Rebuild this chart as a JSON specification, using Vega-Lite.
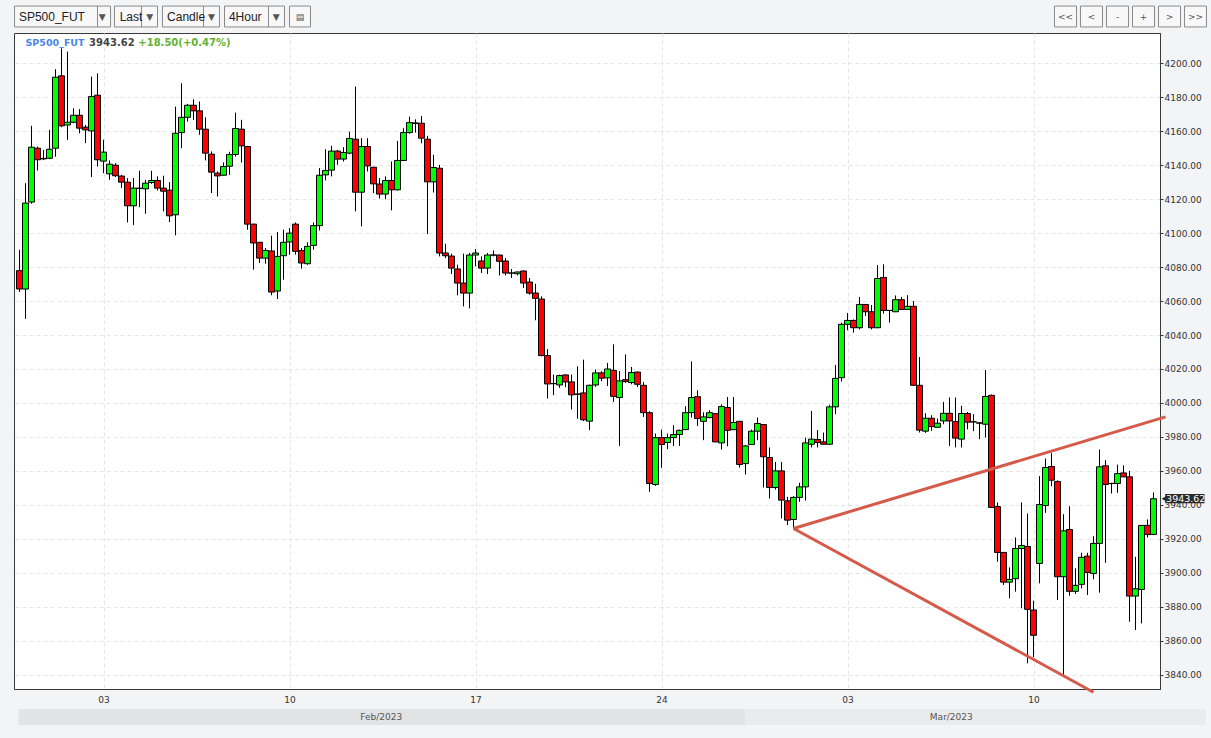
{
  "$schema": "https://vega.github.io/schema/vega-lite/v6.json",
  "width": 1146,
  "height": 656,
  "autosize": {"type": "none"},
  "padding": {"left": 14, "top": 33, "right": 51, "bottom": 49},
  "background": "#f3f4f6",
  "config": {
    "view": {"fill": "white", "stroke": "#3a3a3a", "strokeWidth": 1},
    "axis": {"labelFont": "DejaVu Sans", "labelFontSize": 9, "labelColor": "#333333", "gridColor": "#e6e6e6", "gridDash": [4, 3], "domainColor": "#3a3a3a", "tickColor": "#3a3a3a", "title": null, "labelOverlap": false}
  },
  "datasets": {
    "candles": [
      {"i":1,"o":4077.9,"h":4090.2,"l":4065.4,"c":4067.1},
      {"i":2,"o":4067.1,"h":4129.4,"l":4049.5,"c":4117.7},
      {"i":3,"o":4118.3,"h":4163.2,"l":4117.3,"c":4150.6},
      {"i":4,"o":4150.0,"h":4151.0,"l":4136.9,"c":4143.2},
      {"i":5,"o":4143.7,"h":4149.0,"l":4143.0,"c":4144.0},
      {"i":6,"o":4144.1,"h":4160.8,"l":4143.6,"c":4149.4},
      {"i":7,"o":4150.0,"h":4196.5,"l":4145.0,"c":4191.8},
      {"i":8,"o":4192.6,"h":4208.8,"l":4162.4,"c":4163.2},
      {"i":9,"o":4163.7,"h":4206.9,"l":4154.9,"c":4165.3},
      {"i":10,"o":4165.3,"h":4173.5,"l":4164.7,"c":4169.4},
      {"i":11,"o":4169.4,"h":4173.0,"l":4158.8,"c":4161.8},
      {"i":12,"o":4162.4,"h":4163.7,"l":4153.0,"c":4160.8},
      {"i":13,"o":4160.2,"h":4192.2,"l":4133.0,"c":4180.4},
      {"i":14,"o":4181.2,"h":4194.1,"l":4139.2,"c":4143.2},
      {"i":15,"o":4142.4,"h":4155.0,"l":4135.3,"c":4147.7},
      {"i":16,"o":4134.9,"h":4142.8,"l":4131.4,"c":4140.6},
      {"i":17,"o":4140.0,"h":4141.2,"l":4133.0,"c":4133.8},
      {"i":18,"o":4133.6,"h":4134.3,"l":4126.5,"c":4130.0},
      {"i":19,"o":4130.0,"h":4132.4,"l":4106.3,"c":4116.1},
      {"i":20,"o":4116.1,"h":4132.4,"l":4104.7,"c":4126.5},
      {"i":21,"o":4126.3,"h":4136.7,"l":4115.3,"c":4126.5},
      {"i":22,"o":4126.1,"h":4131.4,"l":4111.4,"c":4129.4},
      {"i":23,"o":4129.8,"h":4136.7,"l":4129.0,"c":4131.0},
      {"i":24,"o":4131.0,"h":4133.4,"l":4125.1,"c":4126.5},
      {"i":25,"o":4126.5,"h":4133.8,"l":4112.8,"c":4124.7},
      {"i":26,"o":4125.3,"h":4130.0,"l":4106.5,"c":4110.2},
      {"i":27,"o":4110.8,"h":4174.5,"l":4098.7,"c":4158.8},
      {"i":28,"o":4159.2,"h":4188.2,"l":4150.0,"c":4168.2},
      {"i":29,"o":4168.2,"h":4176.1,"l":4165.7,"c":4175.3},
      {"i":30,"o":4175.3,"h":4178.8,"l":4166.7,"c":4172.0},
      {"i":31,"o":4172.0,"h":4177.5,"l":4157.9,"c":4161.2},
      {"i":32,"o":4161.2,"h":4168.2,"l":4142.8,"c":4147.1},
      {"i":33,"o":4146.5,"h":4148.1,"l":4123.6,"c":4135.9},
      {"i":34,"o":4135.3,"h":4136.3,"l":4121.6,"c":4133.7},
      {"i":35,"o":4134.1,"h":4141.6,"l":4133.9,"c":4139.2},
      {"i":36,"o":4139.4,"h":4147.9,"l":4134.3,"c":4146.3},
      {"i":37,"o":4146.3,"h":4171.0,"l":4145.1,"c":4161.6},
      {"i":38,"o":4161.2,"h":4166.7,"l":4141.6,"c":4151.4},
      {"i":39,"o":4151.0,"h":4151.4,"l":4102.0,"c":4105.3},
      {"i":40,"o":4105.3,"h":4105.5,"l":4078.5,"c":4094.2},
      {"i":41,"o":4094.6,"h":4094.8,"l":4082.4,"c":4085.3},
      {"i":42,"o":4085.3,"h":4091.2,"l":4082.0,"c":4089.8},
      {"i":43,"o":4089.5,"h":4098.5,"l":4063.4,"c":4065.3},
      {"i":44,"o":4065.9,"h":4100.6,"l":4061.2,"c":4086.3},
      {"i":45,"o":4086.7,"h":4102.0,"l":4072.6,"c":4094.6},
      {"i":46,"o":4094.8,"h":4103.0,"l":4087.3,"c":4100.0},
      {"i":47,"o":4105.3,"h":4106.3,"l":4087.3,"c":4089.3},
      {"i":48,"o":4089.7,"h":4091.2,"l":4079.1,"c":4082.4},
      {"i":49,"o":4082.0,"h":4094.6,"l":4081.4,"c":4092.2},
      {"i":50,"o":4092.8,"h":4106.3,"l":4090.2,"c":4104.4},
      {"i":51,"o":4104.4,"h":4138.3,"l":4101.6,"c":4134.1},
      {"i":52,"o":4134.3,"h":4149.4,"l":4131.0,"c":4136.9},
      {"i":53,"o":4137.1,"h":4151.4,"l":4133.4,"c":4148.3},
      {"i":54,"o":4148.3,"h":4149.0,"l":4140.2,"c":4143.6},
      {"i":55,"o":4143.6,"h":4150.6,"l":4142.2,"c":4147.5},
      {"i":56,"o":4147.1,"h":4159.8,"l":4146.5,"c":4155.7},
      {"i":57,"o":4155.3,"h":4186.3,"l":4112.8,"c":4124.1},
      {"i":58,"o":4124.1,"h":4155.9,"l":4104.0,"c":4151.0},
      {"i":59,"o":4151.0,"h":4155.9,"l":4136.3,"c":4139.6},
      {"i":60,"o":4138.8,"h":4139.0,"l":4123.6,"c":4129.0},
      {"i":61,"o":4128.9,"h":4132.4,"l":4120.4,"c":4123.0},
      {"i":62,"o":4123.0,"h":4133.4,"l":4120.0,"c":4131.0},
      {"i":63,"o":4131.0,"h":4142.2,"l":4113.4,"c":4125.5},
      {"i":64,"o":4125.5,"h":4154.3,"l":4125.1,"c":4142.8},
      {"i":65,"o":4142.8,"h":4161.8,"l":4142.6,"c":4159.2},
      {"i":66,"o":4159.2,"h":4168.6,"l":4158.5,"c":4165.1},
      {"i":67,"o":4164.9,"h":4167.0,"l":4159.2,"c":4164.5},
      {"i":68,"o":4164.7,"h":4169.0,"l":4152.9,"c":4155.9},
      {"i":69,"o":4155.3,"h":4157.3,"l":4099.4,"c":4130.2},
      {"i":70,"o":4130.2,"h":4146.1,"l":4123.9,"c":4138.6},
      {"i":71,"o":4138.2,"h":4140.2,"l":4086.3,"c":4088.3},
      {"i":72,"o":4088.3,"h":4093.8,"l":4085.3,"c":4086.7},
      {"i":73,"o":4086.5,"h":4087.9,"l":4075.9,"c":4079.4},
      {"i":74,"o":4078.9,"h":4081.4,"l":4063.4,"c":4070.6},
      {"i":75,"o":4070.6,"h":4087.9,"l":4056.9,"c":4064.7},
      {"i":76,"o":4064.7,"h":4088.3,"l":4055.7,"c":4087.1},
      {"i":77,"o":4087.1,"h":4090.6,"l":4080.4,"c":4088.3},
      {"i":78,"o":4083.6,"h":4086.3,"l":4076.5,"c":4079.4},
      {"i":79,"o":4079.4,"h":4088.3,"l":4075.9,"c":4087.1},
      {"i":80,"o":4087.1,"h":4089.8,"l":4086.3,"c":4087.1},
      {"i":81,"o":4087.1,"h":4087.3,"l":4075.1,"c":4083.4},
      {"i":82,"o":4083.6,"h":4085.3,"l":4075.1,"c":4076.5},
      {"i":83,"o":4076.5,"h":4078.9,"l":4073.6,"c":4076.5},
      {"i":84,"o":4076.1,"h":4077.5,"l":4075.1,"c":4077.1},
      {"i":85,"o":4077.7,"h":4078.1,"l":4067.7,"c":4070.6},
      {"i":86,"o":4071.2,"h":4073.6,"l":4063.8,"c":4064.7},
      {"i":87,"o":4064.7,"h":4070.2,"l":4048.7,"c":4061.6},
      {"i":88,"o":4061.2,"h":4062.8,"l":4027.5,"c":4027.9},
      {"i":89,"o":4027.9,"h":4031.8,"l":4002.6,"c":4011.2},
      {"i":90,"o":4011.4,"h":4016.7,"l":4004.6,"c":4011.4},
      {"i":91,"o":4010.6,"h":4016.7,"l":4008.9,"c":4016.1},
      {"i":92,"o":4016.5,"h":4016.8,"l":4009.3,"c":4012.4},
      {"i":93,"o":4012.4,"h":4016.7,"l":3996.1,"c":4004.8},
      {"i":94,"o":4005.2,"h":4021.6,"l":3990.7,"c":4005.2},
      {"i":95,"o":4005.9,"h":4025.5,"l":3989.3,"c":3990.1},
      {"i":96,"o":3989.3,"h":4010.8,"l":3984.0,"c":4010.4},
      {"i":97,"o":4010.6,"h":4019.7,"l":4009.5,"c":4017.7},
      {"i":98,"o":4017.7,"h":4018.7,"l":4012.8,"c":4014.6},
      {"i":99,"o":4014.8,"h":4023.6,"l":4010.0,"c":4020.0},
      {"i":100,"o":4019.2,"h":4034.5,"l":4000.6,"c":4003.9},
      {"i":101,"o":4003.2,"h":4018.8,"l":3974.7,"c":4013.0},
      {"i":102,"o":4013.7,"h":4028.6,"l":4011.8,"c":4012.6},
      {"i":103,"o":4012.0,"h":4021.2,"l":4011.0,"c":4017.9},
      {"i":104,"o":4018.2,"h":4018.4,"l":4009.4,"c":4011.0},
      {"i":105,"o":4010.4,"h":4012.4,"l":3991.8,"c":3994.3},
      {"i":106,"o":3994.3,"h":3995.1,"l":3947.7,"c":3952.6},
      {"i":107,"o":3952.0,"h":3982.0,"l":3951.2,"c":3979.6},
      {"i":108,"o":3979.6,"h":3984.3,"l":3961.8,"c":3975.5},
      {"i":109,"o":3976.7,"h":3982.0,"l":3972.8,"c":3979.6},
      {"i":110,"o":3979.6,"h":3986.9,"l":3974.7,"c":3981.4},
      {"i":111,"o":3981.4,"h":3984.3,"l":3974.7,"c":3983.9},
      {"i":112,"o":3984.3,"h":3998.1,"l":3984.0,"c":3994.3},
      {"i":113,"o":3994.3,"h":4024.5,"l":3991.4,"c":4003.2},
      {"i":114,"o":4003.7,"h":4007.5,"l":3986.5,"c":3990.8},
      {"i":115,"o":3989.2,"h":3994.5,"l":3978.1,"c":3991.8},
      {"i":116,"o":3991.4,"h":3995.7,"l":3991.0,"c":3994.3},
      {"i":117,"o":3993.7,"h":3994.1,"l":3976.9,"c":3977.1},
      {"i":118,"o":3976.5,"h":3999.2,"l":3972.6,"c":3997.9},
      {"i":119,"o":3997.3,"h":4003.5,"l":3974.5,"c":3983.9},
      {"i":120,"o":3984.3,"h":4003.5,"l":3984.0,"c":3988.5},
      {"i":121,"o":3989.2,"h":3989.4,"l":3962.0,"c":3963.8},
      {"i":122,"o":3964.3,"h":3975.1,"l":3957.9,"c":3974.7},
      {"i":123,"o":3975.5,"h":3984.3,"l":3975.3,"c":3983.4},
      {"i":124,"o":3983.4,"h":3991.4,"l":3978.1,"c":3987.9},
      {"i":125,"o":3987.3,"h":3987.5,"l":3950.2,"c":3968.3},
      {"i":126,"o":3967.9,"h":3973.8,"l":3943.8,"c":3950.2},
      {"i":127,"o":3950.2,"h":3965.3,"l":3949.0,"c":3960.0},
      {"i":128,"o":3960.0,"h":3965.3,"l":3932.0,"c":3942.8},
      {"i":129,"o":3942.4,"h":3944.7,"l":3928.1,"c":3931.0},
      {"i":130,"o":3931.4,"h":3945.1,"l":3926.1,"c":3944.4},
      {"i":131,"o":3944.4,"h":3953.0,"l":3941.8,"c":3950.6},
      {"i":132,"o":3950.6,"h":3979.6,"l":3942.5,"c":3976.5},
      {"i":133,"o":3975.7,"h":3995.3,"l":3973.8,"c":3978.7},
      {"i":134,"o":3978.5,"h":3984.0,"l":3973.8,"c":3976.7},
      {"i":135,"o":3977.1,"h":3982.6,"l":3975.5,"c":3975.7},
      {"i":136,"o":3975.7,"h":3998.9,"l":3975.5,"c":3997.7},
      {"i":137,"o":3997.7,"h":4022.4,"l":3993.4,"c":4014.5},
      {"i":138,"o":4014.9,"h":4047.3,"l":4012.6,"c":4046.3},
      {"i":139,"o":4046.3,"h":4053.0,"l":4042.8,"c":4048.6},
      {"i":140,"o":4048.6,"h":4049.2,"l":4041.4,"c":4044.3},
      {"i":141,"o":4044.3,"h":4062.4,"l":4043.3,"c":4058.0},
      {"i":142,"o":4058.0,"h":4058.2,"l":4051.2,"c":4053.7},
      {"i":143,"o":4053.7,"h":4057.7,"l":4043.3,"c":4044.3},
      {"i":144,"o":4044.3,"h":4081.2,"l":4044.0,"c":4073.3},
      {"i":145,"o":4073.9,"h":4081.6,"l":4052.6,"c":4054.5},
      {"i":146,"o":4054.5,"h":4054.7,"l":4047.3,"c":4054.5},
      {"i":147,"o":4053.7,"h":4063.3,"l":4053.5,"c":4060.8},
      {"i":148,"o":4060.8,"h":4062.4,"l":4055.0,"c":4055.1},
      {"i":149,"o":4055.1,"h":4063.5,"l":4055.0,"c":4056.9},
      {"i":150,"o":4056.9,"h":4060.0,"l":4010.2,"c":4010.4},
      {"i":151,"o":4010.4,"h":4027.1,"l":3982.6,"c":3984.0},
      {"i":152,"o":3983.4,"h":3994.0,"l":3982.4,"c":3991.0},
      {"i":153,"o":3991.0,"h":3992.8,"l":3983.6,"c":3986.1},
      {"i":154,"o":3985.7,"h":3990.8,"l":3985.5,"c":3988.1},
      {"i":155,"o":3989.4,"h":4000.6,"l":3987.5,"c":3993.9},
      {"i":156,"o":3993.9,"h":4003.2,"l":3974.7,"c":3989.4},
      {"i":157,"o":3989.0,"h":4003.2,"l":3973.8,"c":3979.3},
      {"i":158,"o":3978.7,"h":3998.3,"l":3973.8,"c":3993.8},
      {"i":159,"o":3993.8,"h":3994.7,"l":3984.5,"c":3988.7},
      {"i":160,"o":3988.9,"h":3993.4,"l":3983.4,"c":3988.9},
      {"i":161,"o":3988.3,"h":3988.5,"l":3978.7,"c":3988.1},
      {"i":162,"o":3987.5,"h":4019.4,"l":3979.6,"c":4003.8},
      {"i":163,"o":4004.5,"h":4005.0,"l":3938.3,"c":3938.5},
      {"i":164,"o":3939.0,"h":3941.4,"l":3906.5,"c":3912.0},
      {"i":165,"o":3912.0,"h":3912.2,"l":3892.8,"c":3894.5},
      {"i":166,"o":3894.5,"h":3903.2,"l":3885.0,"c":3896.1},
      {"i":167,"o":3896.5,"h":3920.8,"l":3888.9,"c":3914.3},
      {"i":168,"o":3914.3,"h":3941.4,"l":3879.1,"c":3916.1},
      {"i":169,"o":3915.5,"h":3934.9,"l":3846.7,"c":3878.5},
      {"i":170,"o":3878.1,"h":3883.6,"l":3850.3,"c":3863.2},
      {"i":171,"o":3905.5,"h":3956.9,"l":3893.8,"c":3940.2},
      {"i":172,"o":3939.6,"h":3967.3,"l":3935.3,"c":3962.0},
      {"i":173,"o":3962.6,"h":3970.6,"l":3951.0,"c":3954.5},
      {"i":174,"o":3953.7,"h":3954.5,"l":3884.0,"c":3897.7},
      {"i":175,"o":3897.7,"h":3934.5,"l":3839.9,"c":3924.7},
      {"i":176,"o":3925.5,"h":3939.2,"l":3886.5,"c":3889.1},
      {"i":177,"o":3889.1,"h":3902.6,"l":3887.5,"c":3892.6},
      {"i":178,"o":3893.2,"h":3911.8,"l":3890.8,"c":3909.1},
      {"i":179,"o":3909.8,"h":3911.8,"l":3886.9,"c":3900.2},
      {"i":180,"o":3899.6,"h":3921.6,"l":3896.1,"c":3917.3},
      {"i":181,"o":3917.3,"h":3972.6,"l":3888.3,"c":3962.4},
      {"i":182,"o":3963.0,"h":3966.3,"l":3905.9,"c":3952.0},
      {"i":183,"o":3952.6,"h":3953.0,"l":3946.7,"c":3952.6},
      {"i":184,"o":3952.6,"h":3963.7,"l":3947.1,"c":3958.4},
      {"i":185,"o":3958.8,"h":3963.3,"l":3956.3,"c":3956.5},
      {"i":186,"o":3956.5,"h":3960.0,"l":3871.2,"c":3886.3},
      {"i":187,"o":3886.3,"h":3909.4,"l":3866.3,"c":3890.6},
      {"i":188,"o":3890.2,"h":3927.9,"l":3870.2,"c":3927.9},
      {"i":189,"o":3927.9,"h":3931.4,"l":3920.8,"c":3922.6},
      {"i":190,"o":3922.6,"h":3947.3,"l":3922.4,"c":3943.6}
    ],
    "trend": [
      {"seg": "upper", "i": 130, "p": 3926.1},
      {"seg": "upper", "i": 192, "p": 3991.8},
      {"seg": "lower", "i": 130, "p": 3926.1},
      {"seg": "lower", "i": 180, "p": 3829.7}
    ],
    "months": [
      {"month": "Feb/2023", "start": 0.83, "end": 122, "mid": 61.3},
      {"month": "Mar/2023", "start": 122, "end": 198.7, "mid": 156.3}
    ],
    "menus": [
      {"label": "SP500_FUT", "start": 0.17, "end": 16.17, "div": 14, "tx": 0.9, "ax": 14.8},
      {"label": "Last", "start": 16.83, "end": 24, "div": 21.33, "tx": 17.7, "ax": 22.7},
      {"label": "Candle", "start": 24.83, "end": 34.33, "div": 31.67, "tx": 25.6, "ax": 33},
      {"label": "4Hour", "start": 35.17, "end": 45.17, "div": 42.5, "tx": 35.9, "ax": 43.8}
    ],
    "buttons": [
      {"b": "▤", "start": 46, "end": 49.5, "mid": 47.75},
      {"b": "<<", "start": 173.5, "end": 177.17, "mid": 175.33},
      {"b": "<", "start": 177.83, "end": 181.5, "mid": 179.67},
      {"b": "-", "start": 182.17, "end": 185.83, "mid": 184},
      {"b": "+", "start": 186.5, "end": 190.17, "mid": 188.33},
      {"b": ">", "start": 190.83, "end": 194.5, "mid": 192.67},
      {"b": ">>", "start": 195.17, "end": 198.83, "mid": 197}
    ],
    "one": [{}]
  },
  "layer": [
    {
      "data": {"name": "candles"},
      "mark": {"type": "rule", "color": "#000000", "strokeWidth": 1},
      "encoding": {
        "x": {"field": "i", "type": "quantitative", "scale": {"domain": [0.0833, 191.0833], "nice": false, "zero": false, "padding": 0},
          "axis": {"orient": "bottom", "values": [15, 46, 77, 108, 139, 170], "labelExpr": "datum.value == 15 ? '03' : datum.value == 46 ? '10' : datum.value == 77 ? '17' : datum.value == 108 ? '24' : datum.value == 139 ? '03' : '10'", "grid": true, "ticks": false, "labelPadding": 6, "labelOverlap": false}},
        "y": {"field": "l", "type": "quantitative", "scale": {"domain": [3831.58, 4217.84], "nice": false, "zero": false, "padding": 0},
          "axis": {"orient": "right", "values": [3840, 3860, 3880, 3900, 3920, 3940, 3960, 3980, 4000, 4020, 4040, 4060, 4080, 4100, 4120, 4140, 4160, 4180, 4200], "format": ".2f", "grid": true, "tickSize": 3, "labelPadding": 1, "labelOverlap": false, "labelBound": false, "tickCount": 19}},
        "y2": {"field": "h"}
      }
    },
    {
      "data": {"name": "candles"},
      "mark": {"type": "bar", "size": 6, "stroke": "#000000", "strokeWidth": 1},
      "encoding": {
        "x": {"field": "i", "type": "quantitative"},
        "y": {"field": "o", "type": "quantitative"},
        "y2": {"field": "c"},
        "fill": {"condition": {"test": "datum.c > datum.o", "value": "#00ff00"}, "value": "#ff0000"}
      }
    },
    {
      "data": {"name": "trend"},
      "mark": {"type": "line", "color": "#d65a4a", "strokeWidth": 3},
      "encoding": {
        "x": {"field": "i", "type": "quantitative"},
        "y": {"field": "p", "type": "quantitative"},
        "detail": {"field": "seg"}
      }
    },
    {
      "data": {"name": "months"},
      "mark": {"type": "rect"},
      "encoding": {
        "x": {"field": "start", "type": "quantitative"},
        "x2": {"field": "end"},
        "y": {"datum": 3819.8},
        "y2": {"datum": 3810.4},
        "fill": {"field": "month", "type": "nominal", "scale": {"domain": ["Feb/2023", "Mar/2023"], "range": ["#e2e3e5", "#eaebed"]}, "legend": null}
      }
    },
    {
      "data": {"name": "months"},
      "mark": {"type": "text", "font": "DejaVu Sans", "fontSize": 9, "color": "#555555", "baseline": "middle"},
      "encoding": {
        "x": {"field": "mid", "type": "quantitative"},
        "y": {"datum": 3815.1},
        "text": {"field": "month"}
      }
    },
    {
      "data": {"name": "menus"},
      "mark": {"type": "rect", "fill": "#f8f8f9", "stroke": "#8a8a8a", "strokeWidth": 1},
      "encoding": {
        "x": {"field": "start", "type": "quantitative"},
        "x2": {"field": "end"},
        "y": {"datum": 4233.7},
        "y2": {"datum": 4221.4}
      }
    },
    {
      "data": {"name": "menus"},
      "mark": {"type": "rule", "color": "#8a8a8a", "strokeWidth": 1},
      "encoding": {
        "x": {"field": "div", "type": "quantitative"},
        "y": {"datum": 4233.7},
        "y2": {"datum": 4221.4}
      }
    },
    {
      "data": {"name": "menus"},
      "mark": {"type": "text", "font": "Liberation Sans", "fontSize": 12, "color": "#222222", "align": "left", "baseline": "middle"},
      "encoding": {
        "x": {"field": "tx", "type": "quantitative"},
        "y": {"datum": 4227.5},
        "text": {"field": "label"}
      }
    },
    {
      "data": {"name": "menus"},
      "mark": {"type": "text", "font": "DejaVu Sans", "fontSize": 9, "color": "#555555", "align": "center", "baseline": "middle"},
      "encoding": {
        "x": {"field": "ax", "type": "quantitative"},
        "y": {"datum": 4227.5},
        "text": {"value": "▼"}
      }
    },
    {
      "data": {"name": "buttons"},
      "mark": {"type": "rect", "fill": "#f8f8f9", "stroke": "#8a8a8a", "strokeWidth": 1},
      "encoding": {
        "x": {"field": "start", "type": "quantitative"},
        "x2": {"field": "end"},
        "y": {"datum": 4233.7},
        "y2": {"datum": 4221.4}
      }
    },
    {
      "data": {"name": "buttons"},
      "mark": {"type": "text", "font": "DejaVu Sans", "fontSize": 9, "color": "#555555", "align": "center", "baseline": "middle"},
      "encoding": {
        "x": {"field": "mid", "type": "quantitative"},
        "y": {"datum": 4227.5},
        "text": {"field": "b"}
      }
    },
    {
      "data": {"name": "one"},
      "mark": {"type": "text", "font": "DejaVu Sans", "fontSize": 9.5, "fontWeight": "bold", "color": "#4a86e8", "align": "left", "baseline": "middle"},
      "encoding": {"x": {"datum": 2.0}, "y": {"datum": 4211.9}, "text": {"value": "SP500_FUT"}}
    },
    {
      "data": {"name": "one"},
      "mark": {"type": "text", "font": "DejaVu Sans", "fontSize": 10, "fontWeight": "bold", "color": "#444444", "align": "left", "baseline": "middle"},
      "encoding": {"x": {"datum": 12.6}, "y": {"datum": 4211.9}, "text": {"value": "3943.62"}}
    },
    {
      "data": {"name": "one"},
      "mark": {"type": "text", "font": "DejaVu Sans", "fontSize": 10, "fontWeight": "bold", "color": "#62b231", "align": "left", "baseline": "middle"},
      "encoding": {"x": {"datum": 20.8}, "y": {"datum": 4211.9}, "text": {"value": "+18.50(+0.47%)"}}
    },
    {
      "data": {"name": "one"},
      "mark": {"type": "rect", "fill": "#2b2b2b"},
      "encoding": {"x": {"datum": 191.95}, "x2": {"datum": 198.5}, "y": {"datum": 3946.4}, "y2": {"datum": 3940.9}}
    },
    {
      "data": {"name": "one"},
      "mark": {"type": "point", "shape": "triangle-left", "filled": true, "color": "#2b2b2b", "size": 30, "opacity": 1},
      "encoding": {"x": {"datum": 191.75}, "y": {"datum": 3943.62}}
    },
    {
      "data": {"name": "one"},
      "mark": {"type": "text", "font": "DejaVu Sans", "fontSize": 9.5, "color": "#ffffff", "align": "left", "baseline": "middle"},
      "encoding": {"x": {"datum": 192.1}, "y": {"datum": 3943.62}, "text": {"value": "3943.62"}}
    }
  ]
}
